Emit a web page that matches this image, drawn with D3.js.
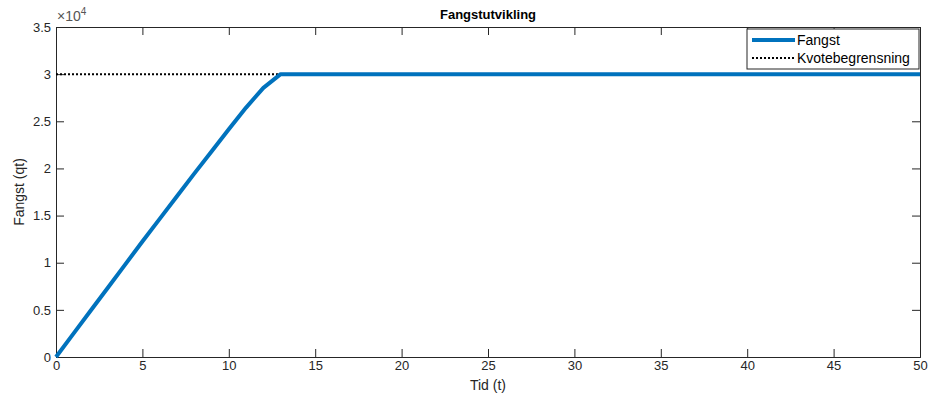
<!DOCTYPE html>
<meta charset="utf-8">
<head>
    <style>
        body { margin: 0; background: #fff; font-family: "Liberation Sans", Arial, sans-serif; }
        .axis text { font-size: 13px; fill: #262626; }
        .axis path, .axis line { stroke: #262626; }
    </style>
</head>
<body>
    <script src="https://d3js.org/d3.v7.min.js"></script>
    <div id="chart"></div>
    <script>
        // data
        var tid = [0, 1, 2, 3, 4, 5, 6, 7, 8, 9, 10, 11, 12, 13, 14, 15, 16, 17, 18, 19, 20,
            21, 22, 23, 24, 25, 26, 27, 28, 29, 30, 31, 32, 33, 34, 35, 36, 37, 38, 39, 40,
            41, 42, 43, 44, 45, 46, 47, 48, 49, 50];
        var fangst = [0, 2450, 4900, 7350, 9800, 12250, 14650, 17050, 19450, 21800, 24150, 26450, 28550, 30000,
            30000, 30000, 30000, 30000, 30000, 30000, 30000, 30000, 30000, 30000, 30000, 30000, 30000,
            30000, 30000, 30000, 30000, 30000, 30000, 30000, 30000, 30000, 30000, 30000, 30000, 30000,
            30000, 30000, 30000, 30000, 30000, 30000, 30000, 30000, 30000, 30000, 30000];
        var kvote = 30000;
        var xTicks = [0, 5, 10, 15, 20, 25, 30, 35, 40, 45, 50];
        var yTicks = [0, 5000, 10000, 15000, 20000, 25000, 30000, 35000];
        var legendNames = ["Fangst", "Kvotebegrensning"];

        var margin = { top: 27, right: 11, bottom: 44, left: 56 },
            width = 931 - margin.left - margin.right,
            height = 401 - margin.top - margin.bottom;

        var svg = d3.select("#chart").append("svg")
            .attr("width", 931)
            .attr("height", 401);
        var g = svg.append("g")
            .attr("transform", "translate(" + margin.left + "," + margin.top + ")");

        var x = d3.scaleLinear().domain([0, 50]).range([0, width]);
        var y = d3.scaleLinear().domain([0, 35000]).range([height, 0]);

        var tick = 8;
        // axes, ticks inward (matlab box style)
        g.append("g").attr("class", "axis")
            .attr("transform", "translate(0," + height + ")")
            .call(d3.axisBottom(x).tickValues(xTicks).tickSize(-tick).tickPadding(4));
        g.append("g").attr("class", "axis")
            .call(d3.axisTop(x).tickValues(xTicks).tickSize(-tick).tickFormat(""));
        g.append("g").attr("class", "axis")
            .call(d3.axisLeft(y).tickValues(yTicks).tickSize(-tick).tickPadding(5)
                .tickFormat(function (d) { return d / 10000; }));
        g.append("g").attr("class", "axis")
            .attr("transform", "translate(" + width + ",0)")
            .call(d3.axisRight(y).tickValues(yTicks).tickSize(-tick).tickFormat(""));
        g.selectAll(".axis .domain").attr("stroke-width", 1);

        // exponent label
        var ex = g.append("text")
            .attr("x", 1).attr("y", -6)
            .style("font-size", "14px").attr("fill", "#555");
        ex.append("tspan").text("\u00d710");
        ex.append("tspan").attr("dy", -6).style("font-size", "10px").text("4");

        // quota line
        g.append("line")
            .attr("x1", x(0)).attr("x2", x(50))
            .attr("y1", y(kvote)).attr("y2", y(kvote))
            .attr("stroke", "#000").attr("stroke-width", 2)
            .attr("stroke-dasharray", "2,2");

        // catch line
        var line = d3.line()
            .x(function (d, i) { return x(tid[i]); })
            .y(function (d) { return y(d); });
        g.append("path")
            .datum(fangst)
            .attr("d", line)
            .attr("fill", "none")
            .attr("stroke", "#0072BD")
            .attr("stroke-width", 4)
            .attr("stroke-linejoin", "round");

        // title and labels
        svg.append("text")
            .attr("x", margin.left + width / 2).attr("y", 19)
            .attr("text-anchor", "middle")
            .style("font-size", "13px").style("font-weight", "bold")
            .text("Fangstutvikling");
        svg.append("text")
            .attr("x", margin.left + width / 2).attr("y", 390)
            .attr("text-anchor", "middle")
            .style("font-size", "14px").attr("fill", "#262626")
            .text("Tid (t)");
        svg.append("text")
            .attr("transform", "translate(24," + (margin.top + height / 2) + ") rotate(-90)")
            .attr("text-anchor", "middle")
            .style("font-size", "14px").attr("fill", "#262626")
            .text("Fangst (qt)");

        // legend
        var lg = svg.append("g").attr("transform", "translate(747,29)");
        lg.append("rect")
            .attr("width", 172).attr("height", 40)
            .attr("fill", "#fff").attr("stroke", "#262626").attr("stroke-width", 1);
        lg.append("line")
            .attr("x1", 5).attr("x2", 48).attr("y1", 11).attr("y2", 11)
            .attr("stroke", "#0072BD").attr("stroke-width", 4);
        lg.append("line")
            .attr("x1", 5).attr("x2", 48).attr("y1", 29).attr("y2", 29)
            .attr("stroke", "#000").attr("stroke-width", 2).attr("stroke-dasharray", "2,2");
        lg.selectAll("text.leg")
            .data(legendNames)
            .enter().append("text")
            .attr("class", "leg")
            .attr("x", 50)
            .attr("y", function (d, i) { return 16 + i * 18; })
            .style("font-size", "14px").attr("fill", "#000")
            .text(function (d) { return d; });
    </script>
</body>
